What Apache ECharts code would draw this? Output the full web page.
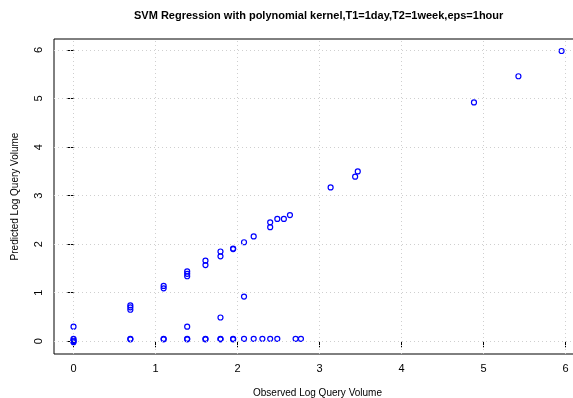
<!DOCTYPE html>
<html>
<head>
<meta charset="utf-8">
<script src="https://cdn.jsdelivr.net/npm/echarts@6/dist/echarts.min.js"></script>
<style>
  html, body { margin: 0; padding: 0; background: #fff; }
  #chart { width: 573px; height: 398px; }
</style>
</head>
<body>
<div id="chart"></div>
<script>
// observed = log(count), predicted = SVM output
const observed = [
  0, 0, 0, 0, 0,
  0.693, 0.693, 0.693, 0.693, 0.693,
  1.099, 1.099, 1.099, 1.099,
  1.386, 1.386, 1.386, 1.386, 1.386, 1.386,
  1.609, 1.609, 1.609, 1.609,
  1.792, 1.792, 1.792, 1.792, 1.792,
  1.946, 1.946, 1.946, 1.946,
  2.079, 2.079, 2.079,
  2.197, 2.197,
  2.303,
  2.398, 2.398, 2.398,
  2.485, 2.485,
  2.565,
  2.639,
  2.708,
  2.773,
  3.135,
  3.434,
  3.466,
  4.883,
  5.425,
  5.951
]
const predicted = [
  0.30, 0.05, 0.02, 0, -0.02,
  0.74, 0.70, 0.65, 0.05, 0.04,
  1.14, 1.09, 0.05, 0.04,
  1.44, 1.39, 1.34, 0.30, 0.05, 0.04,
  1.66, 1.57, 0.05, 0.04,
  1.85, 1.75, 0.49, 0.05, 0.04,
  1.91, 1.90, 0.05, 0.04,
  2.04, 0.92, 0.05,
  2.16, 0.05,
  0.05,
  2.45, 2.35, 0.05,
  2.52, 0.05,
  2.52,
  2.60,
  0.05,
  0.05,
  3.17,
  3.39,
  3.50,
  4.92,
  5.46,
  5.98
]
const xTicks = [0, 1, 2, 3, 4, 5, 6]
const yTicks = [0, 1, 2, 3, 4, 5, 6]

const points = observed.map((x, i) => [x, predicted[i]])
const font = 'Liberation Sans, Arial, sans-serif'
const dotted = { type: [1, 3], color: '#cfcfcf', width: 1 }

// dotted grid at the integer ticks, placed through the axes
const gridLines = xTicks.map(v => ({ xAxis: v })).concat(yTicks.map(v => ({ yAxis: v })))

const chart = echarts.init(document.getElementById('chart'))
chart.setOption({
  animation: false,
  backgroundColor: '#fff',
  textStyle: { fontFamily: font },
  title: {
    text: 'SVM Regression with polynomial kernel,T1=1day,T2=1week,eps=1hour',
    left: 134,
    top: 10,
    padding: 0,
    textStyle: { fontSize: 11, fontWeight: 'bold', color: '#000', fontFamily: font }
  },
  grid: {
    left: 54, top: 39, right: -8, bottom: 44,
    outerBoundsMode: 'none', containLabel: false,
    show: true, borderColor: '#000', borderWidth: 1
  },
  xAxis: {
    type: 'value',
    min: -0.238,
    max: 6.188,
    name: 'Observed Log Query Volume',
    nameLocation: 'middle',
    nameGap: 34,
    nameTextStyle: { fontSize: 10, color: '#000' },
    axisLine: { show: false },
    axisTick: { show: true, inside: false, length: 6, customValues: xTicks, lineStyle: { color: '#000' } },
    axisLabel: { customValues: xTicks, fontSize: 11, color: '#000', margin: 9 },
    splitLine: { show: false }
  },
  yAxis: {
    type: 'value',
    min: -0.262,
    max: 6.227,
    name: 'Predicted Log Query Volume',
    nameLocation: 'middle',
    nameGap: 34,
    nameTextStyle: { fontSize: 10, color: '#000' },
    axisLine: { show: false },
    axisTick: { show: true, inside: false, length: 6, customValues: yTicks, lineStyle: { color: '#000' } },
    axisLabel: { customValues: yTicks, fontSize: 11, color: '#000', rotate: 90, margin: 10 },
    splitLine: { show: false }
  },
  series: [{
    type: 'scatter',
    data: points,
    symbol: 'circle',
    symbolSize: 5,
    itemStyle: { color: 'rgba(0,0,0,0)', borderColor: '#0000ff', borderWidth: 1.2, opacity: 1 },
    clip: false,
    markLine: {
      silent: true,
      symbol: 'none',
      label: { show: false },
      lineStyle: dotted,
      emphasis: { disabled: true },
      data: gridLines
    }
  }]
})
</script>
</body>
</html>
